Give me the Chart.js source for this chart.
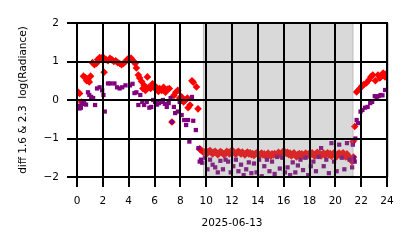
<!DOCTYPE html>
<html><head><meta charset="utf-8">
<script src="https://cdn.jsdelivr.net/npm/chart.js@4"></script>
<style>html,body{margin:0;padding:0;background:#fff}canvas{display:block}</style>
</head><body>
<canvas id="c" width="414" height="248"></canvas>
<script>
// ---- data (hours of day, value) ----
const xTickValues = [0,2,4,6,8,10,12,14,16,18,20,22,24];
const yTickValues = [-2,-1,0,1,2];
const nightSpan = [9.75, 21.4];

const redDayHours = [0.1,0.2,0.35,0.5,0.65,0.75,0.85,0.95,1.05,1.2,1.35,1.5,1.6,1.75,1.9,2.0,2.1,2.25,2.4,2.55,2.7,2.85,3.0,3.15,3.3,3.45,3.6,3.75,3.9,4.05,4.2,4.35,4.5,4.6,4.75,4.85,5.0,5.1,5.2,5.3,5.45,5.55,5.7,5.85,6.0,6.15,6.3,6.4,6.55,6.7,6.85,7.0,7.15,7.35,7.5,7.65,7.8,7.95,8.1,8.25,8.4,8.55,8.6,8.75,8.9,9.0,9.25,9.37];
const redDayValues = [0.20,0.17,-0.05,0.62,0.58,0.50,0.55,0.47,0.62,0.97,0.92,0.95,1.05,1.10,1.08,1.12,0.72,1.05,1.02,1.08,1.05,1.00,1.02,0.97,0.95,0.92,0.95,1.00,1.05,1.10,1.08,1.02,0.95,0.83,0.65,0.57,0.48,0.30,0.38,0.25,0.60,0.33,0.30,0.42,0.31,0.33,0.22,0.30,0.25,0.33,0.20,0.28,0.30,-0.57,0.12,0.20,0.25,0.05,0.08,-0.05,0.00,0.05,-0.20,-0.13,0.50,0.46,0.34,-0.23];

const redNightStart = 9.5, redNightStep = 0.1;
const redNightValues = [
 -1.27,-1.30,-1.33,-1.36,-1.35,-1.32,-1.38,-1.34,-1.31,-1.36,
 -1.40,-1.35,-1.33,-1.37,-1.42,-1.38,-1.34,-1.36,-1.39,-1.43,
 -1.38,-1.33,-1.36,-1.40,-1.37,-1.30,-1.34,-1.38,-1.41,-1.36,
 -1.33,-1.37,-1.40,-1.35,-1.39,-1.43,-1.38,-1.35,-1.40,-1.37,
 -1.42,-1.39,-1.44,-1.40,-1.37,-1.41,-1.45,-1.40,-1.38,-1.43,
 -1.40,-1.45,-1.41,-1.38,-1.42,-1.46,-1.40,-1.43,-1.39,-1.44,
 -1.41,-1.36,-1.40,-1.44,-1.38,-1.32,-1.35,-1.39,-1.36,-1.42,
 -1.38,-1.45,-1.41,-1.37,-1.43,-1.48,-1.42,-1.39,-1.44,-1.40,
 -1.46,-1.42,-1.38,-1.43,-1.40,-1.45,-1.41,-1.37,-1.42,-1.46,
 -1.40,-1.36,-1.43,-1.39,-1.45,-1.41,-1.38,-1.44,-1.40,-1.37,
 -1.43,-1.39,-1.46,-1.41,-1.37,-1.42,-1.47,-1.40,-1.38,-1.44,
 -1.41,-1.37,-1.43,-1.48,-1.40,-1.45,-1.52,-1.55,-1.60,-1.48
];
const redEveHours = [21.37,21.5,21.65,21.9,22.05,22.2,22.4,22.6,22.75,22.9,23.1,23.3,23.45,23.55,23.7,23.85,23.95];
const redEveValues = [-1.08,-0.69,0.21,0.30,0.36,0.40,0.44,0.52,0.60,0.65,0.50,0.65,0.57,0.62,0.70,0.60,0.68];

const purpleDayHours = [0.1,0.2,0.3,0.4,0.55,0.7,0.85,0.95,1.1,1.25,1.4,1.55,1.75,1.95,2.05,2.15,2.4,2.6,2.9,3.1,3.3,3.5,3.75,4.1,4.3,4.45,4.6,4.75,4.9,5.05,5.2,5.4,5.6,5.75,5.9,6.05,6.2,6.35,6.5,6.65,6.8,6.95,7.1,7.25,7.35,7.5,7.6,7.8,7.95,8.1,8.3,8.45,8.6,8.7,8.9,9.0,9.2,9.4,9.5,9.6];
const purpleDayValues = [-0.15,-0.22,-0.20,-0.10,-0.08,-0.12,0.20,0.13,0.08,0.05,-0.13,0.30,0.33,0.25,0.13,-0.30,0.43,0.43,0.43,0.33,0.30,0.33,0.38,0.38,0.42,0.18,0.20,-0.13,0.13,-0.05,-0.13,-0.05,-0.20,-0.18,0.00,-0.05,-0.12,-0.08,-0.05,0.00,-0.10,-0.18,-0.08,0.05,-0.57,-0.18,-0.34,-0.30,-0.05,-0.39,-0.52,-0.65,-0.52,-1.08,0.08,-0.54,-0.78,-1.25,-1.60,-1.55];

const purpleNightStart = 9.7, purpleNightStep = 0.2;
const purpleNightValues = [
 -1.63,-1.50,-1.80,-1.55,-1.68,
 -1.75,-1.88,-1.58,-1.80,-1.55,
 -1.60,-1.88,-1.72,-1.55,-1.85,
 -1.68,-1.95,-1.80,-1.62,-1.90,
 -1.65,-1.88,-1.55,-1.98,-1.72,
 -1.55,-1.85,-1.60,-1.92,-1.48,
 -1.78,-1.50,-1.88,-1.75,-1.95,
 -1.62,-1.88,-1.70,-1.55,-1.82,
 -1.50,-1.95,-1.72,-1.60,-1.85,
 -1.48,-1.25,-1.72,-1.55,-1.90,
 -1.12,-1.60,-1.85,-1.16,-1.50,
 -1.80,-1.12,-1.55,-1.75,-1.60
];
const purpleEveHours = [21.35,21.45,21.55,21.65,21.75,21.95,22.1,22.3,22.5,22.7,22.85,23.05,23.2,23.35,23.5,23.65,23.85];
const purpleEveValues = [-1.16,-1.50,-1.00,-0.52,-0.60,-0.30,-0.26,-0.20,-0.18,-0.08,-0.05,0.10,0.08,0.10,0.13,0.12,0.26];

const xTitle = '2025-06-13';
const yTitle = 'diff 1.6 & 2.3  log(Radiance)';

// ---- build point lists ----
function pairs(h, v){ return h.map((t,i)=>({x:t,y:v[i]})); }
function regular(start, step, v){ return v.map((y,i)=>({x:+(start+i*step).toFixed(3), y})); }
const redPts = pairs(redDayHours, redDayValues).concat(regular(redNightStart, redNightStep, redNightValues), pairs(redEveHours, redEveValues));
const purplePts = pairs(purpleDayHours, purpleDayValues).concat(regular(purpleNightStart, purpleNightStep, purpleNightValues), pairs(purpleEveHours, purpleEveValues));

const TICK_LEN = 10;
// night shading over the points, then black grid + tick marks on top (from the scales' ticks)
const overlayPlugin = {
  id: 'overlay',
  afterDatasetsDraw(chart){
    const {ctx, chartArea:{top,bottom,left,right}, scales:{x,y}} = chart;
    const x0 = x.getPixelForValue(nightSpan[0]), x1 = x.getPixelForValue(nightSpan[1]);
    ctx.save();
    ctx.fillStyle = 'rgba(128,128,128,0.3)';
    ctx.fillRect(x0, top, x1-x0, bottom-top);
    ctx.strokeStyle = 'rgba(128,128,128,0.3)';
    ctx.lineWidth = 1;
    ctx.strokeRect(x0+0.5, top, x1-x0-1, bottom-top);
    // light right spine
    ctx.strokeStyle = '#cccccc';
    ctx.beginPath();
    ctx.moveTo(Math.round(right) + 1.5, top); ctx.lineTo(Math.round(right) + 1.5, bottom);
    ctx.stroke();
    ctx.strokeStyle = '#000';
    ctx.lineWidth = 2;
    ctx.lineCap = 'butt';
    ctx.beginPath();
    x.ticks.forEach(t => {
      const px = Math.round(x.getPixelForValue(t.value));
      ctx.moveTo(px, top - 1); ctx.lineTo(px, bottom + TICK_LEN);
    });
    y.ticks.forEach(t => {
      const py = Math.round(y.getPixelForValue(t.value));
      ctx.moveTo(left - TICK_LEN, py); ctx.lineTo(right + 1, py);
    });
    ctx.stroke();
    ctx.restore();
  }
};

function mkFont(){ return {family: 'DejaVu Sans', size: 10.5}; }
function mkGrid(){ return {display:true, drawOnChartArea:false, drawTicks:true, color:'rgba(0,0,0,0)', tickLength:TICK_LEN, tickColor:'rgba(0,0,0,0)'}; }

new Chart(document.getElementById('c'), {
  type: 'scatter',
  data: { datasets: [
    { label:'2.3', data: purplePts, backgroundColor:'#800080', borderWidth:0, pointStyle:'rect', pointRadius:3, pointHoverRadius:3, order:0 },
    { label:'1.6', data: redPts, backgroundColor:'#ff0000', borderWidth:0, pointStyle:'rectRot', pointRadius:3.8, pointHoverRadius:3.8, order:1 }
  ]},
  options: {
    responsive:false, animation:false, devicePixelRatio:1,
    layout:{padding:{left:0,right:27,top:23,bottom:0}},
    plugins:{legend:{display:false}, tooltip:{enabled:false}},
    events:[],
    scales:{
      x:{ type:'linear', min:0, max:24,
        afterBuildTicks(s){ s.ticks = xTickValues.map(v=>({value:v})); },
        afterFit(s){ s.height = 71; },
        grid: mkGrid(), border:{display:false},
        ticks:{ font: mkFont(), color:'#000', padding:8.4, maxRotation:0, autoSkip:false, callback:v=>String(v) },
        title:{ display:true, text:xTitle, font: mkFont(), color:'#000', padding:{top:0,bottom:18.2} }
      },
      y:{ type:'linear', min:-2, max:2,
        afterBuildTicks(s){ s.ticks = yTickValues.map(v=>({value:v})); },
        afterFit(s){ s.width = 77; },
        grid: mkGrid(), border:{display:false},
        ticks:{ font: mkFont(), color:'#000', padding:8, callback:v=>String(v).replace('-','\u2212') },
        title:{ display:true, text:yTitle, font: mkFont(), color:'#000', padding:{top:17.2,bottom:0} }
      }
    }
  },
  plugins:[overlayPlugin]
});
</script>
</body></html>
